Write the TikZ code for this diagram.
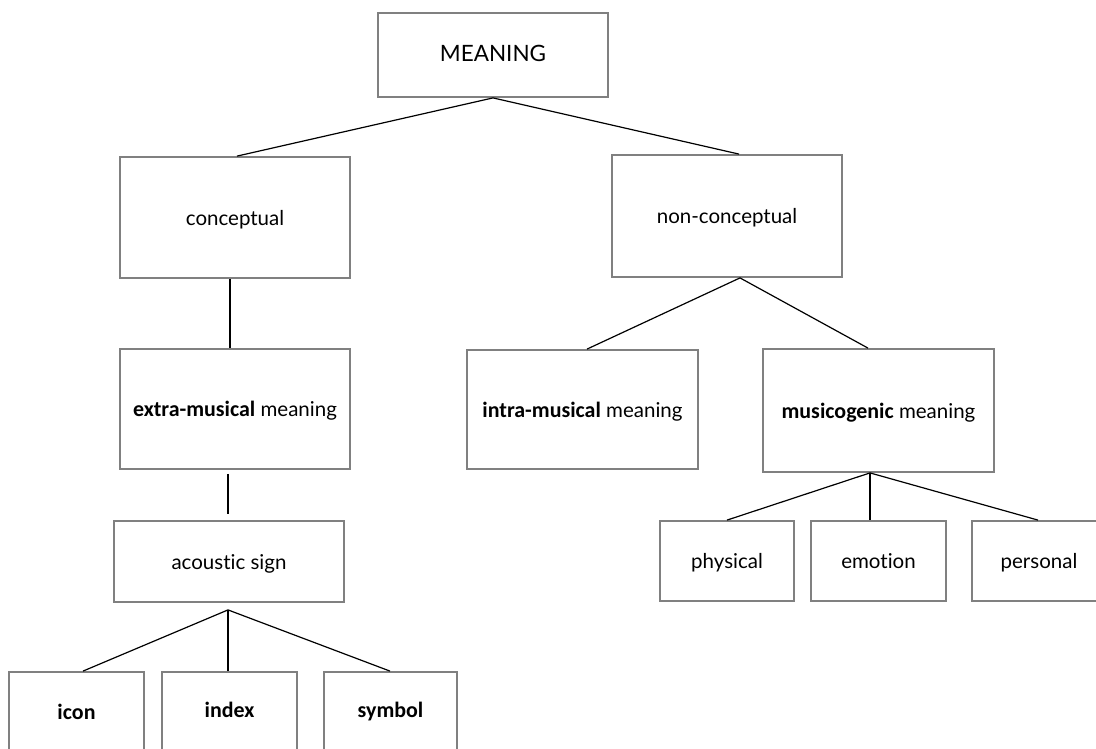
\documentclass[tikz,border=0pt]{standalone}
\usepackage{fontspec}
\setmainfont{Lato}[Ligatures=NoCommon,BoldFont={Carlito Bold},BoldFeatures={Scale=1.07}]
\begin{document}
\begin{tikzpicture}[x=1pt,y=-1pt,
  box/.style={draw=black!50, line width=1.8pt, fill=white, inner sep=0pt,
    text height=16.5pt, text depth=1.5pt,
    font=\fontsize{20.5}{23}\selectfont, text=black},
  link/.style={draw=black, line width=1.2pt}]
\clip (0,0) rectangle (1096,748);
\fill[white] (0,0) rectangle (1096,748);

% level 0
\node[box, minimum width=230pt, minimum height=84pt, font=\fontsize{22.5}{25}\selectfont] (meaning) at (493,55) {\raisebox{1.5pt}{MEANING}};
% level 1
\node[box, minimum width=230pt, minimum height=121pt] (concept) at (235,217.5) {conceptual};
\node[box, minimum width=230pt, minimum height=122pt] (noncon) at (727,216) {non-conceptual};
% level 2
\node[box, minimum width=230pt, minimum height=120pt] (extra) at (235,409) {\textbf{extra-musical} meaning};
\node[box, minimum width=231pt, minimum height=119pt] (intra) at (582.5,409.5) {\textbf{intra-musical} meaning};
\node[box, minimum width=231pt, minimum height=123pt] (musico) at (878.5,410.5) {\textbf{musicogenic} meaning};
% level 3
\node[box, minimum width=230pt, minimum height=81pt] (acoustic) at (229,561.5) {acoustic sign};
\node[box, minimum width=134pt, minimum height=80pt] (physical) at (727,561) {physical};
\node[box, minimum width=135pt, minimum height=80pt] (emotion) at (878.5,561) {emotion};
\node[box, minimum width=134pt, minimum height=80pt] (personal) at (1039,561) {personal};
% level 4
\node[box, minimum width=135pt, minimum height=80pt] (icon) at (76.5,712) {\textbf{icon}};
\node[box, minimum width=135pt, minimum height=80pt] (index) at (229.5,712) {\raisebox{2pt}{\textbf{index}}};
\node[box, minimum width=133pt, minimum height=80pt] (symbol) at (390.5,712) {\raisebox{2pt}{\textbf{symbol}}};

% connectors
\draw[link] (meaning.south) -- ([xshift=2pt]concept.north);
\draw[link] (meaning.south) -- ([xshift=12pt]noncon.north);
\draw[link] ([xshift=-5pt]concept.south) -- ([xshift=-5pt]extra.north);
\draw[link, shorten <=4pt, shorten >=6pt] ([xshift=-7pt]extra.south) -- ([xshift=-1pt]acoustic.north);
\coordinate (aroot) at ([xshift=-1pt,yshift=-7pt]acoustic.south);
\draw[link] (aroot) -- ([xshift=6.5pt]icon.north);
\draw[link] (aroot) -- ([xshift=-1.5pt]index.north);
\draw[link] (aroot) -- ([xshift=-0.5pt]symbol.north);
\draw[link] ([xshift=13pt]noncon.south) -- ([xshift=4.5pt]intra.north);
\draw[link] ([xshift=13pt]noncon.south) -- ([xshift=-10.5pt]musico.north);
\draw[link] ([xshift=-8.5pt]musico.south) -- (physical.north);
\draw[link] ([xshift=-8.5pt]musico.south) -- ([xshift=-8.5pt]emotion.north);
\draw[link] ([xshift=-8.5pt]musico.south) -- ([xshift=-1pt]personal.north);
\end{tikzpicture}
\end{document}
